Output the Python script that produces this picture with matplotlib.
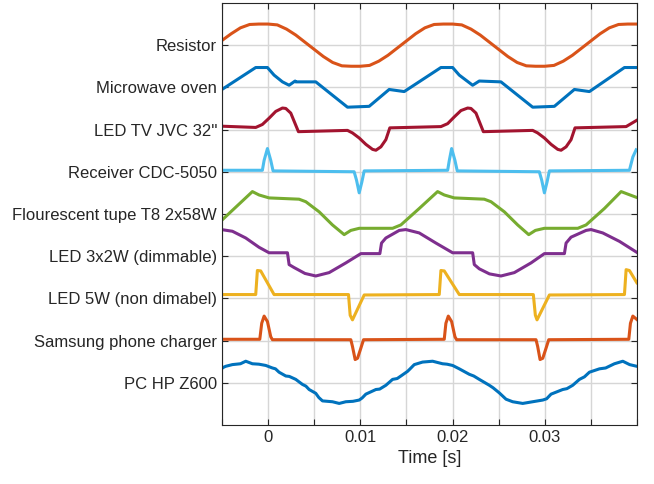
import numpy as np
import matplotlib
matplotlib.use('Agg')
import matplotlib.pyplot as plt

plt.rcParams['font.family'] = ['Liberation Sans', 'DejaVu Sans']

# labels from top to bottom, matlab default colours
devices = ['Resistor', 'Microwave oven', "LED TV JVC 32''", 'Receiver CDC-5050',
           'Flourescent tupe T8 2x58W', 'LED 3x2W (dimmable)', 'LED 5W (non dimabel)',
           'Samsung phone charger', 'PC HP Z600']
colors = ['#D95319', '#0072BD', '#A2142F', '#4DBEEE', '#77AC30',
          '#7E2F8E', '#EDB120', '#D95319', '#0072BD']

# time in ms, normalised current
resistor_t = [-5.07, -4, -3, -2, -1, 0, 1, 2, 3, 4, 5, 6, 7, 8, 9, 10, 11, 12, 13, 14, 15,
              16, 17, 18, 19, 20, 21, 22, 23, 24, 25, 26, 27, 28, 29, 30, 31, 32, 33, 34,
              35, 36, 37, 38, 39, 40]
resistor_i = [0.1, 0.27, 0.41, 0.49, 0.5, 0.5, 0.48, 0.38, 0.24, 0.07, -0.1, -0.27, -0.41,
              -0.49, -0.5, -0.5, -0.48, -0.38, -0.24, -0.07, 0.1, 0.27, 0.41, 0.49, 0.5,
              0.5, 0.48, 0.38, 0.24, 0.07, -0.1, -0.27, -0.41, -0.49, -0.5, -0.5, -0.48,
              -0.38, -0.24, -0.07, 0.1, 0.27, 0.41, 0.49, 0.5, 0.5]

micro_t = [-5.07, -1.34, -0.07, 0.65, 1.56, 2.28, 2.93, 3.0, 5.17, 8.61, 10.96, 13.13, 14.76,
           18.74, 20.01, 20.73, 22.18, 22.90, 25.25, 28.69, 31.04, 33.21, 34.84, 38.64, 39.98]
micro_i = [-0.06, 0.47, 0.47, 0.29, 0.13, 0.05, 0.15, 0.13, 0.13, -0.47, -0.45, -0.05, -0.10,
           0.47, 0.47, 0.29, 0.05, 0.15, 0.13, -0.47, -0.45, -0.05, -0.10, 0.47, 0.47]

tv_t = [-5.07, -1.34, -0.62, 0.11, 0.83, 1.56, 1.92, 2.46, 3.29, 8.61, 9.15, 9.88, 10.60,
        11.33, 11.69, 12.23, 12.77, 13.20, 18.74, 19.47, 20.19, 20.91, 21.64, 22.0, 22.54,
        23.34, 28.69, 29.23, 29.96, 30.68, 31.41, 31.77, 32.31, 32.85, 33.28, 38.82, 39.98]
tv_i = [0.08, 0.05, 0.12, 0.27, 0.43, 0.51, 0.50, 0.39, -0.05, -0.02, -0.08, -0.2, -0.35,
        -0.47, -0.49, -0.41, -0.24, 0.04, 0.07, 0.14, 0.3, 0.45, 0.51, 0.50, 0.39,
        -0.05, -0.02, -0.08, -0.2, -0.35, -0.47, -0.49, -0.41, -0.24, 0.04, 0.07, 0.22]

recv_t = [-5.07, -0.62, -0.43, -0.07, 0.29, 0.54, 9.33, 9.59, 9.88, 10.17, 10.42,
          19.47, 19.65, 19.90, 20.26, 20.51, 29.41, 29.67, 29.96, 30.25, 30.50,
          39.18, 39.55, 39.91]
recv_i = [0.035, 0.035, 0.27, 0.55, 0.27, 0.02, 0.0, -0.2, -0.5, -0.24, 0.02,
          0.035, 0.27, 0.55, 0.27, 0.02, 0.0, -0.2, -0.5, -0.24, 0.02,
          0.035, 0.35, 0.52]

fluo_t = [-5.07, -1.70, -0.98, 0.11, 3.36, 4.09, 5.54, 6.98, 8.25, 8.97, 9.88, 13.50, 14.40,
          16.39, 18.38, 19.10, 20.19, 23.44, 24.17, 25.62, 27.06, 28.26, 28.98, 29.96, 33.58,
          34.48, 36.47, 38.28, 39.00, 39.98]
fluo_i = [-0.16, 0.53, 0.45, 0.38, 0.35, 0.29, 0.05, -0.26, -0.49, -0.39, -0.34, -0.34, -0.26,
          0.13, 0.53, 0.45, 0.38, 0.35, 0.29, 0.05, -0.26, -0.49, -0.39, -0.34, -0.34,
          -0.26, 0.13, 0.53, 0.47, 0.39]

dim_t = [-5.07, -3.87, -2.42, -0.98, 0.11, 2.10, 2.28, 2.82, 4.0, 5.17, 6.62, 8.43, 10.06,
         12.12, 12.30, 12.77, 14.22, 14.94, 16.39, 18.20, 20.01, 22.18, 22.36, 22.90, 24.0,
         25.25, 26.70, 28.51, 29.96, 32.13, 32.31, 32.85, 34.48, 35.02, 36.29, 38.10, 39.98]
dim_i = [0.63, 0.59, 0.43, 0.21, 0.08, 0.08, -0.20, -0.27, -0.41, -0.47, -0.39, -0.16, 0.06,
         0.06, 0.31, 0.43, 0.61, 0.63, 0.55, 0.31, 0.08, 0.08, -0.20, -0.30, -0.42,
         -0.47, -0.39, -0.16, 0.06, 0.06, 0.31, 0.45, 0.61, 0.63, 0.55, 0.35, 0.09]

led5_t = [-5.07, -1.34, -1.16, -0.80, 0.65, 8.72, 8.90, 9.15, 10.42, 18.56, 18.74, 19.10,
          20.73, 28.76, 28.98, 29.16, 30.50, 38.64, 38.82, 39.18, 39.98]
led5_i = [0.09, 0.09, 0.66, 0.65, 0.09, 0.09, -0.40, -0.51, 0.08, 0.09, 0.66, 0.65,
          0.09, 0.09, -0.40, -0.51, 0.08, 0.09, 0.68, 0.66, 0.37]

phone_t = [-5.07, -0.90, -0.69, -0.43, -0.07, 0.29, 0.47, 8.97, 9.15, 9.44, 9.70, 10.06,
           10.35, 19.10, 19.28, 19.54, 19.90, 20.26, 20.44, 29.05, 29.23, 29.49, 29.78,
           30.14, 30.43, 39.11, 39.29, 39.55, 39.98]
phone_i = [0.03, 0.03, 0.41, 0.58, 0.45, 0.09, 0.02, 0.02, -0.14, -0.45, -0.42, -0.18,
           0.02, 0.03, 0.41, 0.58, 0.45, 0.09, 0.02, 0.02, -0.14, -0.45, -0.42,
           -0.18, 0.02, 0.03, 0.41, 0.58, 0.50]

pc_t = [-5.07, -4.8, -4.59, -3.87, -3.0, -2.42, -1.70, -1.0, -0.25, 0.47, 0.8, 1.19, 1.92,
        2.3, 3.00, 3.73, 4.1, 4.45, 5.17, 5.5, 5.90, 6.98, 7.71, 8.43, 9.2, 9.88, 10.2,
        10.60, 11.69, 12.1, 12.77, 13.50, 14.0, 14.40, 15.12, 15.4, 15.85, 16.75, 17.84,
        18.92, 19.4, 20.01, 20.73, 21.82, 22.3, 22.90, 23.99, 24.4, 25.07, 25.80, 26.52,
        27.61, 28.69, 29.78, 30.2, 30.68, 31.95, 32.4, 33.03, 33.76, 34.3, 34.84, 35.93,
        36.6, 37.55, 38.46, 39.2, 39.98]
pc_i = [0.33, 0.37, 0.39, 0.43, 0.45, 0.51, 0.45, 0.44, 0.41, 0.35, 0.33, 0.25, 0.16,
        0.15, 0.08, -0.04, -0.08, -0.16, -0.25, -0.35, -0.43, -0.45, -0.49, -0.45, -0.44,
        -0.41, -0.36, -0.27, -0.16, -0.15, -0.06, 0.08, 0.1, 0.16, 0.27, 0.33, 0.43, 0.49,
        0.51, 0.45, 0.44, 0.41, 0.33, 0.20, 0.16, 0.08, -0.06, -0.12, -0.24, -0.39, -0.45,
        -0.49, -0.45, -0.41, -0.38, -0.27, -0.16, -0.14, -0.06, 0.08, 0.14, 0.25, 0.33,
        0.35, 0.45, 0.51, 0.43, 0.39]

series = [(resistor_t, resistor_i), (micro_t, micro_i), (tv_t, tv_i), (recv_t, recv_i),
          (fluo_t, fluo_i), (dim_t, dim_i), (led5_t, led5_i), (phone_t, phone_i), (pc_t, pc_i)]

fig = plt.figure(figsize=(6.54, 4.84), dpi=100)
ax = fig.add_axes([0.3394, 0.122, 0.6346, 0.8719])

n = len(devices)
for k, ((t, i), c) in enumerate(zip(series, colors)):
    offset = n - k
    ax.plot(np.array(t) / 1000.0, np.array(i) + offset, color=c, lw=2.2, solid_joinstyle='round')

ax.set_xlim(-0.005, 0.04)
ax.set_ylim(0, 10)
xt = np.arange(-5, 41, 5)  # ms
ax.set_xticks(xt / 1000.0)
xlabels = {0: '0', 10: '0.01', 20: '0.02', 30: '0.03'}
ax.set_xticklabels([xlabels.get(int(v), '') for v in xt])
ax.set_yticks(np.arange(n, 0, -1))
ax.set_yticklabels(devices)

ax.grid(True, color='#d6d6d6', lw=1)
ax.set_axisbelow(True)
ax.tick_params(direction='in', length=4, width=0.8, colors='#262626', labelsize=12,
               top=True, right=True)
for s in ax.spines.values():
    s.set_color('#262626')
    s.set_linewidth(0.8)
ax.set_xlabel('Time [s]', fontsize=13, color='#262626')

fig.savefig('out.png', dpi=100)
